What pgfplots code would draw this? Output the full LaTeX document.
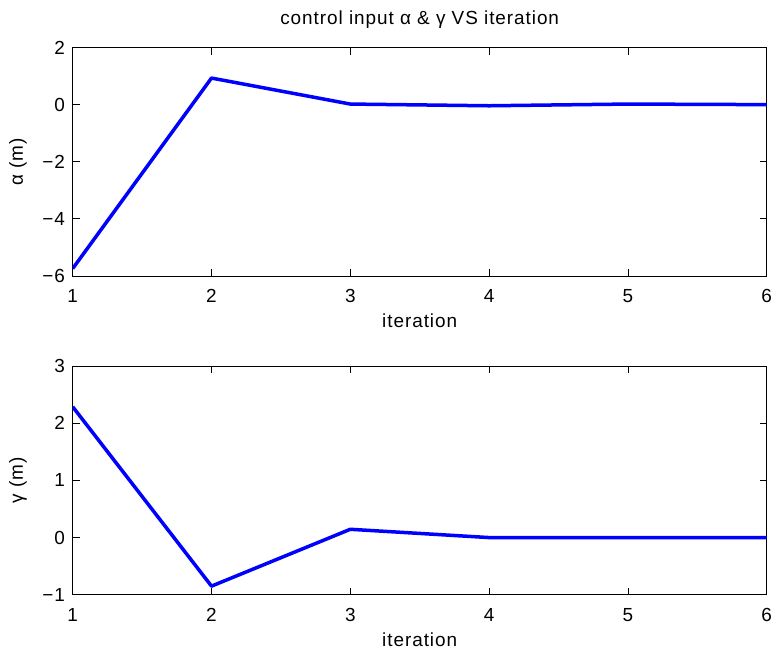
\documentclass[border=0pt]{standalone}
\usepackage{fontspec}
\setmainfont{Liberation Sans}[LetterSpace=5]
\usepackage{pgfplots}
\pgfplotsset{compat=1.18}
\begin{document}
\begin{tikzpicture}
\useasboundingbox (0bp,0bp) rectangle (776bp,653bp);
\pgfplotsset{
  mystyle/.style={
    scale only axis, width=694bp, height=228.5bp,
    anchor=south west,
    xmin=1, xmax=6, xtick={1,2,3,4,5,6},
    tick align=inside, tick pos=both,
    major tick length=7bp,
    axis line style={line width=0.8bp},
    every tick/.style={black, line width=0.8bp},
    font=\fontsize{19}{22}\selectfont,
    xticklabel style={anchor=base, yshift=-27bp, inner sep=0pt},
    yticklabel style={anchor=east, xshift=-7.5bp, inner sep=0pt},
    xlabel style={at={(axis description cs:0.5,0)}, anchor=base, yshift=-51.5bp, inner sep=0pt},
    ylabel style={at={(axis description cs:-0.0788,0.5)}, anchor=center},
    /pgf/number format/assume math mode=true,
  }
}
\begin{axis}[mystyle, at={(72.7bp,377bp)},
  ymin=-6, ymax=2, ytick={-6,-4,-2,0,2}, yticklabels={−6,−4,−2,0,2},
  xlabel={iteration}, ylabel={α (m)},
  title={control input α \& γ VS iteration},
  title style={at={(axis description cs:0.5,1)}, anchor=base, yshift=17bp, inner sep=0pt}]
\addplot[blue, line width=3.5bp, line join=round] coordinates {(1,-5.74) (2,0.93) (3,0.02) (4,-0.04) (5,0.02) (6,0.0)};
\end{axis}
\begin{axis}[mystyle, at={(72.7bp,58.3bp)},
  ymin=-1, ymax=3, ytick={-1,0,1,2,3}, yticklabels={−1,0,1,2,3},
  xlabel={iteration}, ylabel={γ (m)}]
\addplot[blue, line width=3.5bp, line join=round] coordinates {(1,2.29) (2,-0.85) (3,0.145) (4,0.0) (5,0.0) (6,0.0)};
\end{axis}
\end{tikzpicture}
\end{document}
